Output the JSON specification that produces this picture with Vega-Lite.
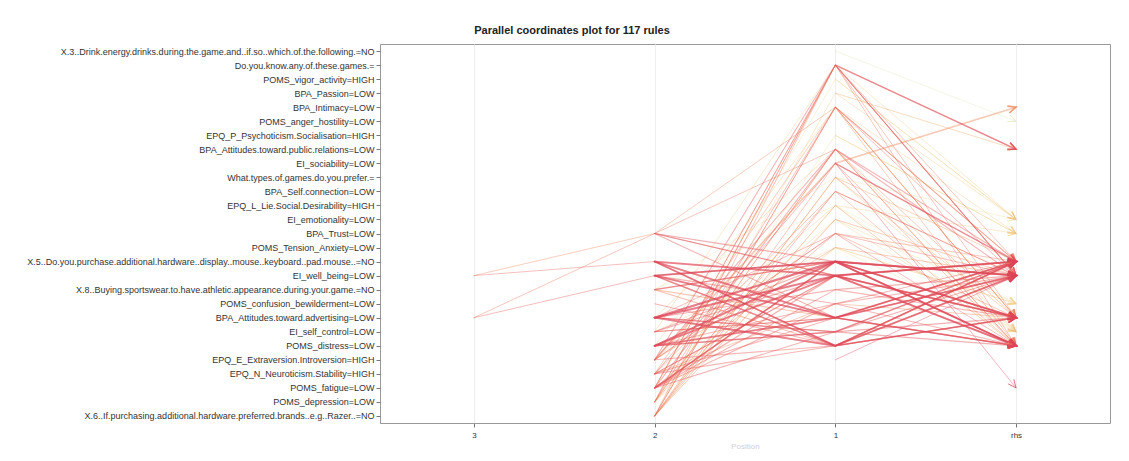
{
  "$schema": "https://vega.github.io/schema/vega-lite/v6.json",
  "width": 730,
  "height": 379,
  "autosize": {"type": "none"},
  "padding": {"left": 380, "top": 44, "right": 19, "bottom": 38},
  "background": "white",
  "config": {"font": "Liberation Sans", "view": {"stroke": "#999999", "strokeWidth": 1}},
  "title": {"text": "Parallel coordinates plot for 117 rules", "fontSize": 11, "fontWeight": "bold", "color": "#222222", "anchor": "middle", "dx": -173, "offset": 8},
  "datasets": {
    "labels": [
      {"i": 0, "name": "X.3..Drink.energy.drinks.during.the.game.and..if.so..which.of.the.following.=NO"},
      {"i": 1, "name": "Do.you.know.any.of.these.games.="},
      {"i": 2, "name": "POMS_vigor_activity=HIGH"},
      {"i": 3, "name": "BPA_Passion=LOW"},
      {"i": 4, "name": "BPA_Intimacy=LOW"},
      {"i": 5, "name": "POMS_anger_hostility=LOW"},
      {"i": 6, "name": "EPQ_P_Psychoticism.Socialisation=HIGH"},
      {"i": 7, "name": "BPA_Attitudes.toward.public.relations=LOW"},
      {"i": 8, "name": "EI_sociability=LOW"},
      {"i": 9, "name": "What.types.of.games.do.you.prefer.="},
      {"i": 10, "name": "BPA_Self.connection=LOW"},
      {"i": 11, "name": "EPQ_L_Lie.Social.Desirability=HIGH"},
      {"i": 12, "name": "EI_emotionality=LOW"},
      {"i": 13, "name": "BPA_Trust=LOW"},
      {"i": 14, "name": "POMS_Tension_Anxiety=LOW"},
      {"i": 15, "name": "X.5..Do.you.purchase.additional.hardware..display..mouse..keyboard..pad.mouse..=NO"},
      {"i": 16, "name": "EI_well_being=LOW"},
      {"i": 17, "name": "X.8..Buying.sportswear.to.have.athletic.appearance.during.your.game.=NO"},
      {"i": 18, "name": "POMS_confusion_bewilderment=LOW"},
      {"i": 19, "name": "BPA_Attitudes.toward.advertising=LOW"},
      {"i": 20, "name": "EI_self_control=LOW"},
      {"i": 21, "name": "POMS_distress=LOW"},
      {"i": 22, "name": "EPQ_E_Extraversion.Introversion=HIGH"},
      {"i": 23, "name": "EPQ_N_Neuroticism.Stability=HIGH"},
      {"i": 24, "name": "POMS_fatigue=LOW"},
      {"i": 25, "name": "POMS_depression=LOW"},
      {"i": 26, "name": "X.6..If.purchasing.additional.hardware.preferred.brands..e.g..Razer..=NO"}
    ],
    "rules": [
      {"id": 1, "a1": 0, "r": 5, "L": 1.0, "S": 0.15},
      {"id": 4, "a2": 17, "a1": 9, "r": 12, "L": 1.15, "S": 0.12},
      {"id": 10, "a2": 26, "a1": 11, "r": 18, "L": 1.15, "S": 0.12},
      {"id": 14, "a2": 17, "a1": 11, "r": 20, "L": 1.15, "S": 0.12},
      {"id": 3, "a2": 24, "a1": 2, "r": 12, "L": 1.2, "S": 0.12},
      {"id": 7, "a2": 25, "a1": 6, "r": 13, "L": 1.2, "S": 0.12},
      {"id": 9, "a2": 24, "a1": 14, "r": 18, "L": 1.2, "S": 0.12},
      {"id": 12, "a2": 25, "a1": 14, "r": 20, "L": 1.2, "S": 0.12},
      {"id": 2, "a1": 2, "r": 12, "L": 1.25, "S": 0.15},
      {"id": 6, "a1": 6, "r": 13, "L": 1.25, "S": 0.15},
      {"id": 11, "a2": 20, "a1": 14, "r": 18, "L": 1.25, "S": 0.12},
      {"id": 13, "a2": 23, "a1": 12, "r": 20, "L": 1.25, "S": 0.12},
      {"id": 27, "a2": 25, "a1": 12, "r": 18, "L": 1.25, "S": 0.12},
      {"id": 5, "a2": 26, "a1": 3, "r": 12, "L": 1.3, "S": 0.12},
      {"id": 8, "a2": 22, "a1": 11, "r": 13, "L": 1.3, "S": 0.12},
      {"id": 15, "a1": 9, "r": 20, "L": 1.3, "S": 0.15},
      {"id": 25, "a2": 20, "a1": 1, "r": 12, "L": 1.3, "S": 0.12},
      {"id": 26, "a2": 21, "a1": 4, "r": 13, "L": 1.3, "S": 0.12},
      {"id": 28, "a2": 19, "a1": 7, "r": 20, "L": 1.35, "S": 0.12},
      {"id": 16, "a1": 3, "r": 7, "L": 1.4, "S": 0.15},
      {"id": 50, "a2": 26, "a1": 9, "r": 15, "L": 1.45, "S": 0.15},
      {"id": 89, "a2": 26, "a1": 9, "r": 19, "L": 1.45, "S": 0.15},
      {"id": 96, "a1": 4, "r": 19, "L": 1.45, "S": 0.15},
      {"id": 114, "a2": 26, "a1": 11, "r": 21, "L": 1.45, "S": 0.15},
      {"id": 19, "a2": 22, "a1": 8, "r": 4, "L": 1.5, "S": 0.35},
      {"id": 21, "a3": 16, "a2": 13, "a1": 4, "r": 19, "L": 1.5, "S": 0.15},
      {"id": 43, "a2": 17, "a1": 19, "r": 15, "L": 1.5, "S": 0.2},
      {"id": 53, "a1": 4, "r": 15, "L": 1.5, "S": 0.2},
      {"id": 71, "a2": 26, "a1": 12, "r": 16, "L": 1.5, "S": 0.15},
      {"id": 74, "a2": 22, "a1": 14, "r": 16, "L": 1.5, "S": 0.15},
      {"id": 88, "a2": 25, "a1": 7, "r": 19, "L": 1.5, "S": 0.15},
      {"id": 94, "a2": 26, "a1": 4, "r": 19, "L": 1.5, "S": 0.15},
      {"id": 97, "a2": 23, "a1": 18, "r": 19, "L": 1.5, "S": 0.15},
      {"id": 109, "a2": 25, "a1": 10, "r": 21, "L": 1.5, "S": 0.15},
      {"id": 116, "a2": 23, "a1": 4, "r": 21, "L": 1.5, "S": 0.15},
      {"id": 117, "a2": 25, "a1": 7, "r": 21, "L": 1.5, "S": 0.15},
      {"id": 23, "a3": 19, "a2": 13, "a1": 7, "r": 21, "L": 1.55, "S": 0.15},
      {"id": 38, "a2": 26, "a1": 1, "r": 15, "L": 1.55, "S": 0.15},
      {"id": 49, "a2": 24, "a1": 13, "r": 15, "L": 1.55, "S": 0.15},
      {"id": 62, "a2": 25, "a1": 1, "r": 16, "L": 1.55, "S": 0.15},
      {"id": 72, "a2": 23, "a1": 10, "r": 16, "L": 1.55, "S": 0.15},
      {"id": 86, "a2": 17, "a1": 21, "r": 19, "L": 1.55, "S": 0.2},
      {"id": 90, "a2": 22, "a1": 13, "r": 19, "L": 1.55, "S": 0.15},
      {"id": 95, "a2": 25, "a1": 1, "r": 19, "L": 1.55, "S": 0.15},
      {"id": 108, "a2": 26, "a1": 8, "r": 21, "L": 1.55, "S": 0.15},
      {"id": 115, "a2": 24, "a1": 1, "r": 21, "L": 1.55, "S": 0.15},
      {"id": 22, "a3": 16, "a2": 15, "a1": 21, "r": 19, "L": 1.6, "S": 0.15},
      {"id": 29, "a2": 26, "a1": 10, "r": 16, "L": 1.6, "S": 0.15},
      {"id": 37, "a2": 23, "a1": 19, "r": 15, "L": 1.6, "S": 0.2},
      {"id": 39, "a2": 25, "a1": 4, "r": 15, "L": 1.6, "S": 0.15},
      {"id": 42, "a2": 22, "a1": 21, "r": 15, "L": 1.6, "S": 0.2},
      {"id": 48, "a2": 18, "a1": 21, "r": 15, "L": 1.6, "S": 0.2},
      {"id": 61, "a2": 23, "a1": 21, "r": 16, "L": 1.6, "S": 0.2},
      {"id": 63, "a2": 26, "a1": 4, "r": 16, "L": 1.6, "S": 0.15},
      {"id": 69, "a2": 21, "a1": 18, "r": 16, "L": 1.6, "S": 0.2},
      {"id": 73, "a2": 19, "a1": 13, "r": 16, "L": 1.6, "S": 0.15},
      {"id": 77, "a2": 24, "a1": 1, "r": 16, "L": 1.6, "S": 0.15},
      {"id": 85, "a2": 23, "a1": 16, "r": 19, "L": 1.6, "S": 0.2},
      {"id": 91, "a2": 24, "a1": 17, "r": 19, "L": 1.6, "S": 0.2},
      {"id": 106, "a2": 20, "a1": 19, "r": 21, "L": 1.6, "S": 0.2},
      {"id": 110, "a2": 22, "a1": 13, "r": 21, "L": 1.6, "S": 0.15},
      {"id": 112, "a2": 24, "a1": 18, "r": 21, "L": 1.6, "S": 0.2},
      {"id": 40, "a2": 24, "a1": 7, "r": 15, "L": 1.65, "S": 0.2},
      {"id": 47, "a2": 16, "a1": 18, "r": 15, "L": 1.65, "S": 0.2},
      {"id": 64, "a2": 22, "a1": 7, "r": 16, "L": 1.65, "S": 0.2},
      {"id": 67, "a2": 20, "a1": 19, "r": 16, "L": 1.65, "S": 0.2},
      {"id": 87, "a2": 20, "a1": 15, "r": 19, "L": 1.65, "S": 0.2},
      {"id": 105, "a2": 23, "a1": 16, "r": 21, "L": 1.65, "S": 0.2},
      {"id": 18, "a2": 22, "a1": 1, "r": 7, "L": 1.7, "S": 0.2},
      {"id": 24, "a3": 19, "a2": 16, "a1": 15, "r": 21, "L": 1.7, "S": 0.15},
      {"id": 32, "a2": 24, "a1": 16, "r": 15, "L": 1.7, "S": 0.25},
      {"id": 41, "a2": 20, "a1": 16, "r": 15, "L": 1.7, "S": 0.2},
      {"id": 44, "a2": 13, "a1": 16, "r": 15, "L": 1.7, "S": 0.2},
      {"id": 65, "a2": 17, "a1": 15, "r": 16, "L": 1.7, "S": 0.25},
      {"id": 66, "a2": 19, "a1": 17, "r": 16, "L": 1.7, "S": 0.2},
      {"id": 70, "a2": 24, "a1": 20, "r": 16, "L": 1.7, "S": 0.2},
      {"id": 84, "a2": 24, "a1": 15, "r": 19, "L": 1.7, "S": 0.25},
      {"id": 92, "a2": 13, "a1": 16, "r": 19, "L": 1.7, "S": 0.2},
      {"id": 104, "a2": 24, "a1": 15, "r": 21, "L": 1.7, "S": 0.25},
      {"id": 107, "a2": 17, "a1": 15, "r": 21, "L": 1.7, "S": 0.2},
      {"id": 111, "a2": 13, "a1": 19, "r": 21, "L": 1.7, "S": 0.2},
      {"id": 36, "a2": 16, "a1": 21, "r": 15, "L": 1.75, "S": 0.3},
      {"id": 45, "a2": 19, "a1": 20, "r": 15, "L": 1.75, "S": 0.25},
      {"id": 56, "a2": 24, "a1": 15, "r": 16, "L": 1.75, "S": 0.3},
      {"id": 68, "a2": 13, "a1": 15, "r": 16, "L": 1.75, "S": 0.25},
      {"id": 93, "a2": 21, "a1": 20, "r": 19, "L": 1.75, "S": 0.25},
      {"id": 113, "a2": 19, "a1": 20, "r": 21, "L": 1.75, "S": 0.25},
      {"id": 17, "a1": 1, "r": 7, "L": 1.8, "S": 0.3},
      {"id": 34, "a2": 21, "a1": 19, "r": 15, "L": 1.8, "S": 0.35},
      {"id": 46, "a2": 21, "a1": 20, "r": 15, "L": 1.8, "S": 0.3},
      {"id": 51, "a2": 23, "a1": 8, "r": 15, "L": 1.8, "S": 0.15},
      {"id": 58, "a2": 21, "a1": 19, "r": 16, "L": 1.8, "S": 0.35},
      {"id": 60, "a2": 15, "a1": 21, "r": 16, "L": 1.8, "S": 0.35},
      {"id": 75, "a1": 1, "r": 16, "L": 1.8, "S": 0.2},
      {"id": 81, "a2": 21, "a1": 16, "r": 19, "L": 1.8, "S": 0.35},
      {"id": 83, "a2": 16, "a1": 21, "r": 19, "L": 1.8, "S": 0.3},
      {"id": 102, "a2": 15, "a1": 19, "r": 21, "L": 1.8, "S": 0.35},
      {"id": 103, "a2": 16, "a1": 19, "r": 21, "L": 1.8, "S": 0.35},
      {"id": 31, "a2": 21, "a1": 16, "r": 15, "L": 1.85, "S": 0.4},
      {"id": 35, "a2": 19, "a1": 21, "r": 15, "L": 1.85, "S": 0.4},
      {"id": 52, "a1": 8, "r": 15, "L": 1.85, "S": 0.3},
      {"id": 57, "a2": 15, "a1": 19, "r": 16, "L": 1.85, "S": 0.4},
      {"id": 59, "a2": 19, "a1": 21, "r": 16, "L": 1.85, "S": 0.4},
      {"id": 79, "a2": 21, "a1": 15, "r": 19, "L": 1.85, "S": 0.4},
      {"id": 80, "a2": 15, "a1": 16, "r": 19, "L": 1.85, "S": 0.4},
      {"id": 100, "a2": 15, "a1": 16, "r": 21, "L": 1.85, "S": 0.4},
      {"id": 101, "a2": 19, "a1": 16, "r": 21, "L": 1.85, "S": 0.4},
      {"id": 20, "a1": 8, "r": 24, "L": 1.9, "S": 0.15},
      {"id": 30, "a2": 19, "a1": 16, "r": 15, "L": 1.9, "S": 0.45},
      {"id": 33, "a2": 16, "a1": 19, "r": 15, "L": 1.9, "S": 0.4},
      {"id": 54, "a2": 19, "a1": 15, "r": 16, "L": 1.9, "S": 0.45},
      {"id": 55, "a2": 21, "a1": 15, "r": 16, "L": 1.9, "S": 0.45},
      {"id": 78, "a2": 16, "a1": 15, "r": 19, "L": 1.9, "S": 0.4},
      {"id": 82, "a2": 15, "a1": 21, "r": 19, "L": 1.9, "S": 0.35},
      {"id": 98, "a2": 16, "a1": 15, "r": 21, "L": 1.9, "S": 0.4},
      {"id": 99, "a2": 19, "a1": 15, "r": 21, "L": 1.9, "S": 0.45},
      {"id": 76, "a1": 22, "r": 16, "L": 1.95, "S": 0.15}
    ]
  },
  "data": {"name": "rules"},
  "transform": [
    {"fold": ["a3", "a2", "a1", "r"], "as": ["pos", "item"]},
    {"filter": "isValid(datum.item)"},
    {"lookup": "item", "from": {"data": {"name": "labels"}, "key": "i", "fields": ["name"]}},
    {"calculate": "indexof(['a3','a2','a1','r'], datum.pos)", "as": "ord"}
  ],
  "encoding": {
    "x": {
      "field": "pos", "type": "nominal",
      "scale": {"type": "point", "domain": ["a3", "a2", "a1", "r"], "padding": 0.52},
      "axis": {"labelExpr": "datum.value == 'r' ? 'rhs' : replace(datum.value, 'a', '')", "title": "Position", "titleColor": "#d0d0d0", "titleFontSize": 8, "titleFontWeight": "normal", "titlePadding": 3, "labelFontSize": 8, "labelColor": "#333333", "labelAngle": 0, "labelPadding": 4, "tickColor": "#777777", "tickSize": 4, "domain": false, "grid": true, "gridColor": "#eeeeee", "gridWidth": 1}
    },
    "y": {
      "field": "name", "type": "nominal",
      "scale": {"type": "point", "padding": 0.5, "domain": [
        "X.3..Drink.energy.drinks.during.the.game.and..if.so..which.of.the.following.=NO",
        "Do.you.know.any.of.these.games.=",
        "POMS_vigor_activity=HIGH",
        "BPA_Passion=LOW",
        "BPA_Intimacy=LOW",
        "POMS_anger_hostility=LOW",
        "EPQ_P_Psychoticism.Socialisation=HIGH",
        "BPA_Attitudes.toward.public.relations=LOW",
        "EI_sociability=LOW",
        "What.types.of.games.do.you.prefer.=",
        "BPA_Self.connection=LOW",
        "EPQ_L_Lie.Social.Desirability=HIGH",
        "EI_emotionality=LOW",
        "BPA_Trust=LOW",
        "POMS_Tension_Anxiety=LOW",
        "X.5..Do.you.purchase.additional.hardware..display..mouse..keyboard..pad.mouse..=NO",
        "EI_well_being=LOW",
        "X.8..Buying.sportswear.to.have.athletic.appearance.during.your.game.=NO",
        "POMS_confusion_bewilderment=LOW",
        "BPA_Attitudes.toward.advertising=LOW",
        "EI_self_control=LOW",
        "POMS_distress=LOW",
        "EPQ_E_Extraversion.Introversion=HIGH",
        "EPQ_N_Neuroticism.Stability=HIGH",
        "POMS_fatigue=LOW",
        "POMS_depression=LOW",
        "X.6..If.purchasing.additional.hardware.preferred.brands..e.g..Razer..=NO"
      ]},
      "axis": {"title": null, "labelFontSize": 9, "labelColor": "#333333", "labelLimit": 1000, "labelPadding": 2, "tickColor": "#777777", "tickSize": 4, "domain": false, "grid": false}
    },
    "color": {
      "field": "L", "type": "quantitative",
      "scale": {"domain": [1.0, 1.25, 1.45, 1.6, 2.0], "range": ["#E6E6C0", "#F2CE88", "#F09A5C", "#E8605A", "#D93A58"]},
      "legend": null
    },
    "strokeWidth": {
      "field": "S", "type": "quantitative",
      "scale": {"domain": [0.1, 0.5], "range": [0.7, 2.2]},
      "legend": null
    }
  },
  "layer": [
    {
      "mark": {"type": "line", "opacity": 0.45, "strokeCap": "round", "strokeJoin": "round"},
      "encoding": {
        "detail": {"field": "id", "type": "nominal"},
        "order": {"field": "ord", "type": "quantitative"}
      }
    },
    {
      "transform": [
        {"filter": "datum.pos == 'r'"},
        {"calculate": "90 + atan2((datum.r - datum.a1) * 14.04, 181) * 180 / PI", "as": "ang"}
      ],
      "mark": {"type": "point", "shape": "M-0.45,1L0,0L0.45,1", "filled": false, "size": 256, "opacity": 0.8, "strokeJoin": "miter"},
      "encoding": {
        "angle": {"field": "ang", "type": "quantitative", "scale": null}
      }
    }
  ]
}
